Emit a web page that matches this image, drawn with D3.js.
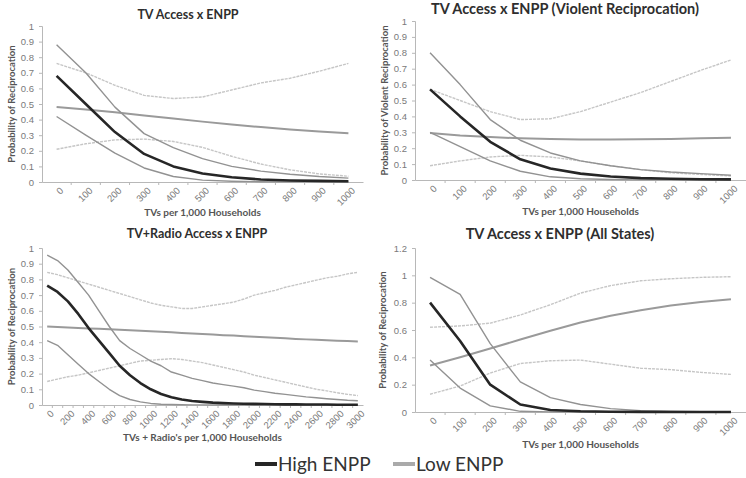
<!DOCTYPE html>
<html>
<head>
<meta charset="utf-8">
<script src="https://cdn.jsdelivr.net/npm/d3@7"></script>
<style>
  body { margin: 0; background: #fff; }
  svg { display: block; font-family: Lato, "Open Sans", sans-serif; }
</style>
</head>
<body>
<div class="chart"></div>
<script>
// ---- data ----
var tvX = [0, 100, 200, 300, 400, 500, 600, 700, 800, 900, 1000];
var radioX = [0, 100, 200, 300, 400, 500, 600, 700, 800, 900, 1000, 1100, 1200, 1300, 1400, 1500,
    1600, 1700, 1800, 1900, 2000, 2100, 2200, 2300, 2400, 2500, 2600, 2700, 2800, 2900, 3000];

// TV Access x ENPP
var tvHigh      = [0.68, 0.50, 0.32, 0.18, 0.10, 0.055, 0.03, 0.016, 0.01, 0.007, 0.005];
var tvHighUp    = [0.88, 0.70, 0.48, 0.31, 0.22, 0.15, 0.10, 0.07, 0.05, 0.035, 0.025];
var tvHighLo    = [0.42, 0.30, 0.185, 0.09, 0.035, 0.012, 0.005, 0.002, 0.001, 0.0005, 0.0003];
var tvLow       = [0.48, 0.465, 0.447, 0.427, 0.407, 0.387, 0.368, 0.352, 0.337, 0.323, 0.313];
var tvLowUp     = [0.76, 0.70, 0.62, 0.555, 0.535, 0.545, 0.59, 0.635, 0.665, 0.71, 0.76];
var tvLowLo     = [0.21, 0.245, 0.27, 0.275, 0.26, 0.222, 0.165, 0.115, 0.078, 0.052, 0.037];

// TV Access x ENPP (Violent Reciprocation)
var vioHigh     = [0.57, 0.40, 0.24, 0.13, 0.072, 0.04, 0.022, 0.012, 0.008, 0.005, 0.004];
var vioHighUp   = [0.80, 0.60, 0.38, 0.25, 0.17, 0.12, 0.09, 0.065, 0.05, 0.04, 0.03];
var vioHighLo   = [0.30, 0.21, 0.12, 0.055, 0.02, 0.008, 0.003, 0.001, 0.0005, 0.0002, 0.0001];
var vioLow      = [0.295, 0.28, 0.27, 0.262, 0.258, 0.255, 0.255, 0.256, 0.258, 0.262, 0.265];
var vioLowUp    = [0.57, 0.50, 0.43, 0.38, 0.385, 0.43, 0.49, 0.55, 0.62, 0.69, 0.755];
var vioLowLo    = [0.09, 0.12, 0.145, 0.155, 0.145, 0.12, 0.09, 0.065, 0.045, 0.035, 0.025];

// TV+Radio Access x ENPP
var radHigh     = [0.76, 0.72, 0.66, 0.58, 0.49, 0.41, 0.33, 0.25, 0.19, 0.14, 0.10, 0.07, 0.05, 0.035,
    0.025, 0.02, 0.015, 0.012, 0.01, 0.008, 0.007, 0.006, 0.005, 0.004, 0.004, 0.003, 0.003, 0.003, 0.002, 0.002, 0.002];
var radHighUp   = [0.955, 0.92, 0.86, 0.78, 0.70, 0.60, 0.50, 0.41, 0.36, 0.32, 0.28, 0.25, 0.21, 0.19,
    0.17, 0.155, 0.14, 0.13, 0.12, 0.11, 0.095, 0.085, 0.075, 0.068, 0.06, 0.052, 0.046, 0.04, 0.035, 0.03, 0.027];
var radHighLo   = [0.41, 0.38, 0.32, 0.26, 0.20, 0.15, 0.10, 0.06, 0.035, 0.02, 0.01, 0.005, 0.003, 0.002,
    0.001, 0.001, 0, 0, 0, 0, 0, 0, 0, 0, 0, 0, 0, 0, 0, 0, 0];
var radLow      = [0.50, 0.497, 0.494, 0.491, 0.488, 0.485, 0.482, 0.479, 0.476, 0.473, 0.47, 0.466, 0.463, 0.459,
    0.456, 0.452, 0.449, 0.445, 0.442, 0.438, 0.435, 0.432, 0.428, 0.425, 0.421, 0.418, 0.415, 0.412, 0.41, 0.407, 0.405];
var radLowUp    = [0.845, 0.83, 0.81, 0.79, 0.77, 0.75, 0.73, 0.71, 0.69, 0.67, 0.65, 0.635, 0.625, 0.615,
    0.615, 0.625, 0.635, 0.645, 0.655, 0.675, 0.70, 0.715, 0.73, 0.75, 0.765, 0.78, 0.795, 0.81, 0.82, 0.835, 0.845];
var radLowLo    = [0.15, 0.165, 0.18, 0.19, 0.205, 0.22, 0.235, 0.25, 0.265, 0.28, 0.285, 0.29, 0.295, 0.29,
    0.28, 0.27, 0.255, 0.24, 0.225, 0.21, 0.19, 0.175, 0.16, 0.145, 0.13, 0.115, 0.10, 0.09, 0.078, 0.068, 0.06];

// TV Access x ENPP (All States)
var allHigh     = [0.80, 0.52, 0.20, 0.055, 0.015, 0.005, 0.002, 0.001, 0.0005, 0.0003, 0.0002];
var allHighUp   = [0.985, 0.86, 0.50, 0.22, 0.105, 0.055, 0.025, 0.01, 0.005, 0.003, 0.002];
var allHighLo   = [0.38, 0.175, 0.045, 0.005, 0.001, 0, 0, 0, 0, 0, 0];
var allLow      = [0.34, 0.40, 0.465, 0.53, 0.595, 0.655, 0.705, 0.745, 0.78, 0.805, 0.825];
var allLowUp    = [0.62, 0.63, 0.65, 0.71, 0.785, 0.87, 0.925, 0.96, 0.975, 0.985, 0.99];
var allLowLo    = [0.13, 0.19, 0.285, 0.355, 0.375, 0.38, 0.35, 0.32, 0.31, 0.29, 0.275];

var yTicksOne = [0, 0.1, 0.2, 0.3, 0.4, 0.5, 0.6, 0.7, 0.8, 0.9, 1];
var yTicksAll = [0, 0.2, 0.4, 0.6, 0.8, 1, 1.2];
var radioLabels = [0, 200, 400, 600, 800, 1000, 1200, 1400, 1600, 1800, 2000, 2200, 2400, 2600, 2800, 3000];

var legendLabels = ["High ENPP", "Low ENPP"];

// ---- layout ----
var svgWidth = 746;
var svgHeight = 478;

var svg = d3.select(".chart")
    .append("svg")
    .attr("width", svgWidth)
    .attr("height", svgHeight);

var panels = [
    {title: "TV Access x ENPP", titleX: 188, titleY: 15, titleSize: 12.5,
     x0: 42, x1: 363, yTop: 26, yBot: 182, yMax: 1, yTicks: yTicksOne,
     yLabel: "Probability of Reciprocation", yLabelX: 12,
     xLabel: "TVs per 1,000 Households", xLabelY: 212,
     cats: tvX, labels: tvX,
     series: [tvHigh, tvHighUp, tvHighLo, tvLow, tvLowUp, tvLowLo]},
    {title: "TV Access x ENPP (Violent Reciprocation)", titleX: 565, titleY: 9, titleSize: 14.5,
     x0: 415, x1: 746, yTop: 21, yBot: 180, yMax: 1, yTicks: yTicksOne,
     yLabel: "Probability of Violent Reciprocation", yLabelX: 385,
     xLabel: "TVs per 1,000 Households", xLabelY: 211,
     cats: tvX, labels: tvX,
     series: [vioHigh, vioHighUp, vioHighLo, vioLow, vioLowUp, vioLowLo]},
    {title: "TV+Radio Access x ENPP", titleX: 197, titleY: 234, titleSize: 12.5,
     x0: 42, x1: 363, yTop: 248, yBot: 405, yMax: 1, yTicks: yTicksOne,
     yLabel: "Probability of Reciprocation", yLabelX: 12,
     xLabel: "TVs + Radio's per 1,000 Households", xLabelY: 437,
     cats: radioX, labels: radioLabels,
     series: [radHigh, radHighUp, radHighLo, radLow, radLowUp, radLowLo]},
    {title: "TV Access x ENPP (All States)", titleX: 560, titleY: 234, titleSize: 14.5,
     x0: 415, x1: 746, yTop: 248, yBot: 412, yMax: 1.2, yTicks: yTicksAll,
     yLabel: "Probability of Reciprocation", yLabelX: 383,
     xLabel: "TVs per 1,000 Households", xLabelY: 444,
     cats: tvX, labels: tvX,
     series: [allHigh, allHighUp, allHighLo, allLow, allLowUp, allLowLo]}
];

// high mean, high CI x2, low mean, low CI x2
var lineStyles = [
    {color: "#262626", width: 2.6, dash: null},
    {color: "#929292", width: 1.4, dash: null},
    {color: "#929292", width: 1.4, dash: null},
    {color: "#9a9a9a", width: 2, dash: null},
    {color: "#c6c6c6", width: 1.4, dash: "3,1"},
    {color: "#c6c6c6", width: 1.4, dash: "3,1"}
];
// draw order: light ones first so the dark curve sits on top
var drawOrder = [4, 5, 3, 1, 2, 0];

panels.forEach(function(p) {
    var g = svg.append("g");

    var xBand = d3.scaleBand()
        .domain(p.cats)
        .range([p.x0, p.x1])
        .padding(0);

    var yLinearScale = d3.scaleLinear()
        .domain([0, p.yMax])
        .range([p.yBot, p.yTop]);

    // y axis
    var leftAxis = d3.axisLeft(yLinearScale)
        .tickValues(p.yTicks)
        .tickSize(3)
        .tickPadding(5)
        .tickFormat(function(d) { return String(d); });

    var yAxis = g.append("g")
        .attr("transform", `translate(${p.x0}, 0)`)
        .call(leftAxis);

    yAxis.select(".domain").attr("stroke", "#b8b8b8");
    yAxis.selectAll(".tick line").attr("stroke", "#b8b8b8");
    yAxis.selectAll(".tick text")
        .attr("fill", "#7a7a7a")
        .attr("font-size", "9.5px");

    // x axis: labels at category centres, ticks between categories
    var bottomAxis = d3.axisBottom(xBand)
        .tickValues(p.labels)
        .tickSize(0)
        .tickPadding(0);

    var xAxis = g.append("g")
        .attr("transform", `translate(0, ${p.yBot})`)
        .call(bottomAxis);

    xAxis.select(".domain").attr("stroke", "#b8b8b8");
    xAxis.selectAll(".tick text")
        .attr("fill", "#7a7a7a")
        .attr("font-size", "9.5px")
        .attr("text-anchor", "end")
        .attr("dy", "0.35em")
        .attr("transform", "translate(5, 7) rotate(-45)");

    g.append("g")
        .selectAll("line")
        .data(p.cats.slice(1))
        .enter()
        .append("line")
        .attr("x1", d => xBand(d))
        .attr("x2", d => xBand(d))
        .attr("y1", p.yBot)
        .attr("y2", p.yBot + 3)
        .attr("stroke", "#b8b8b8");

    // lines
    var line = d3.line()
        .x((d, i) => xBand(p.cats[i]) + xBand.bandwidth() / 2)
        .y(d => yLinearScale(d));

    drawOrder.forEach(function(k) {
        var st = lineStyles[k];
        g.append("path")
            .datum(p.series[k])
            .attr("d", line)
            .attr("fill", "none")
            .attr("stroke", st.color)
            .attr("stroke-width", st.width)
            .attr("stroke-linejoin", "round")
            .attr("stroke-dasharray", st.dash);
    });

    // titles
    g.append("text")
        .attr("x", p.titleX)
        .attr("y", p.titleY)
        .attr("dy", "0.35em")
        .attr("text-anchor", "middle")
        .attr("font-size", p.titleSize + "px")
        .attr("font-weight", "bold")
        .attr("fill", "#2e2e2e")
        .text(p.title);

    g.append("text")
        .attr("x", (p.x0 + p.x1) / 2)
        .attr("y", p.xLabelY)
        .attr("dy", "0.35em")
        .attr("text-anchor", "middle")
        .attr("font-size", "10px")
        .attr("font-weight", "bold")
        .attr("fill", "#555")
        .text(p.xLabel);

    g.append("text")
        .attr("transform", `translate(${p.yLabelX}, ${(p.yTop + p.yBot) / 2}) rotate(-90)`)
        .attr("dy", "0.35em")
        .attr("text-anchor", "middle")
        .attr("font-size", "9.5px")
        .attr("font-weight", "bold")
        .attr("fill", "#555")
        .text(p.yLabel);
});

// legend
var legendX = [255, 393];
var legendColors = ["#262626", "#aaaaaa"];

var legend = svg.append("g")
    .selectAll("g")
    .data(legendLabels)
    .enter()
    .append("g")
    .attr("transform", (d, i) => `translate(${legendX[i]}, 464)`);

legend.append("line")
    .attr("x1", 0)
    .attr("x2", 22)
    .attr("stroke", (d, i) => legendColors[i])
    .attr("stroke-width", 4);

legend.append("text")
    .attr("x", 23)
    .attr("dy", "0.35em")
    .attr("font-size", "19px")
    .attr("fill", "#333")
    .text(d => d);
</script>
</body>
</html>
